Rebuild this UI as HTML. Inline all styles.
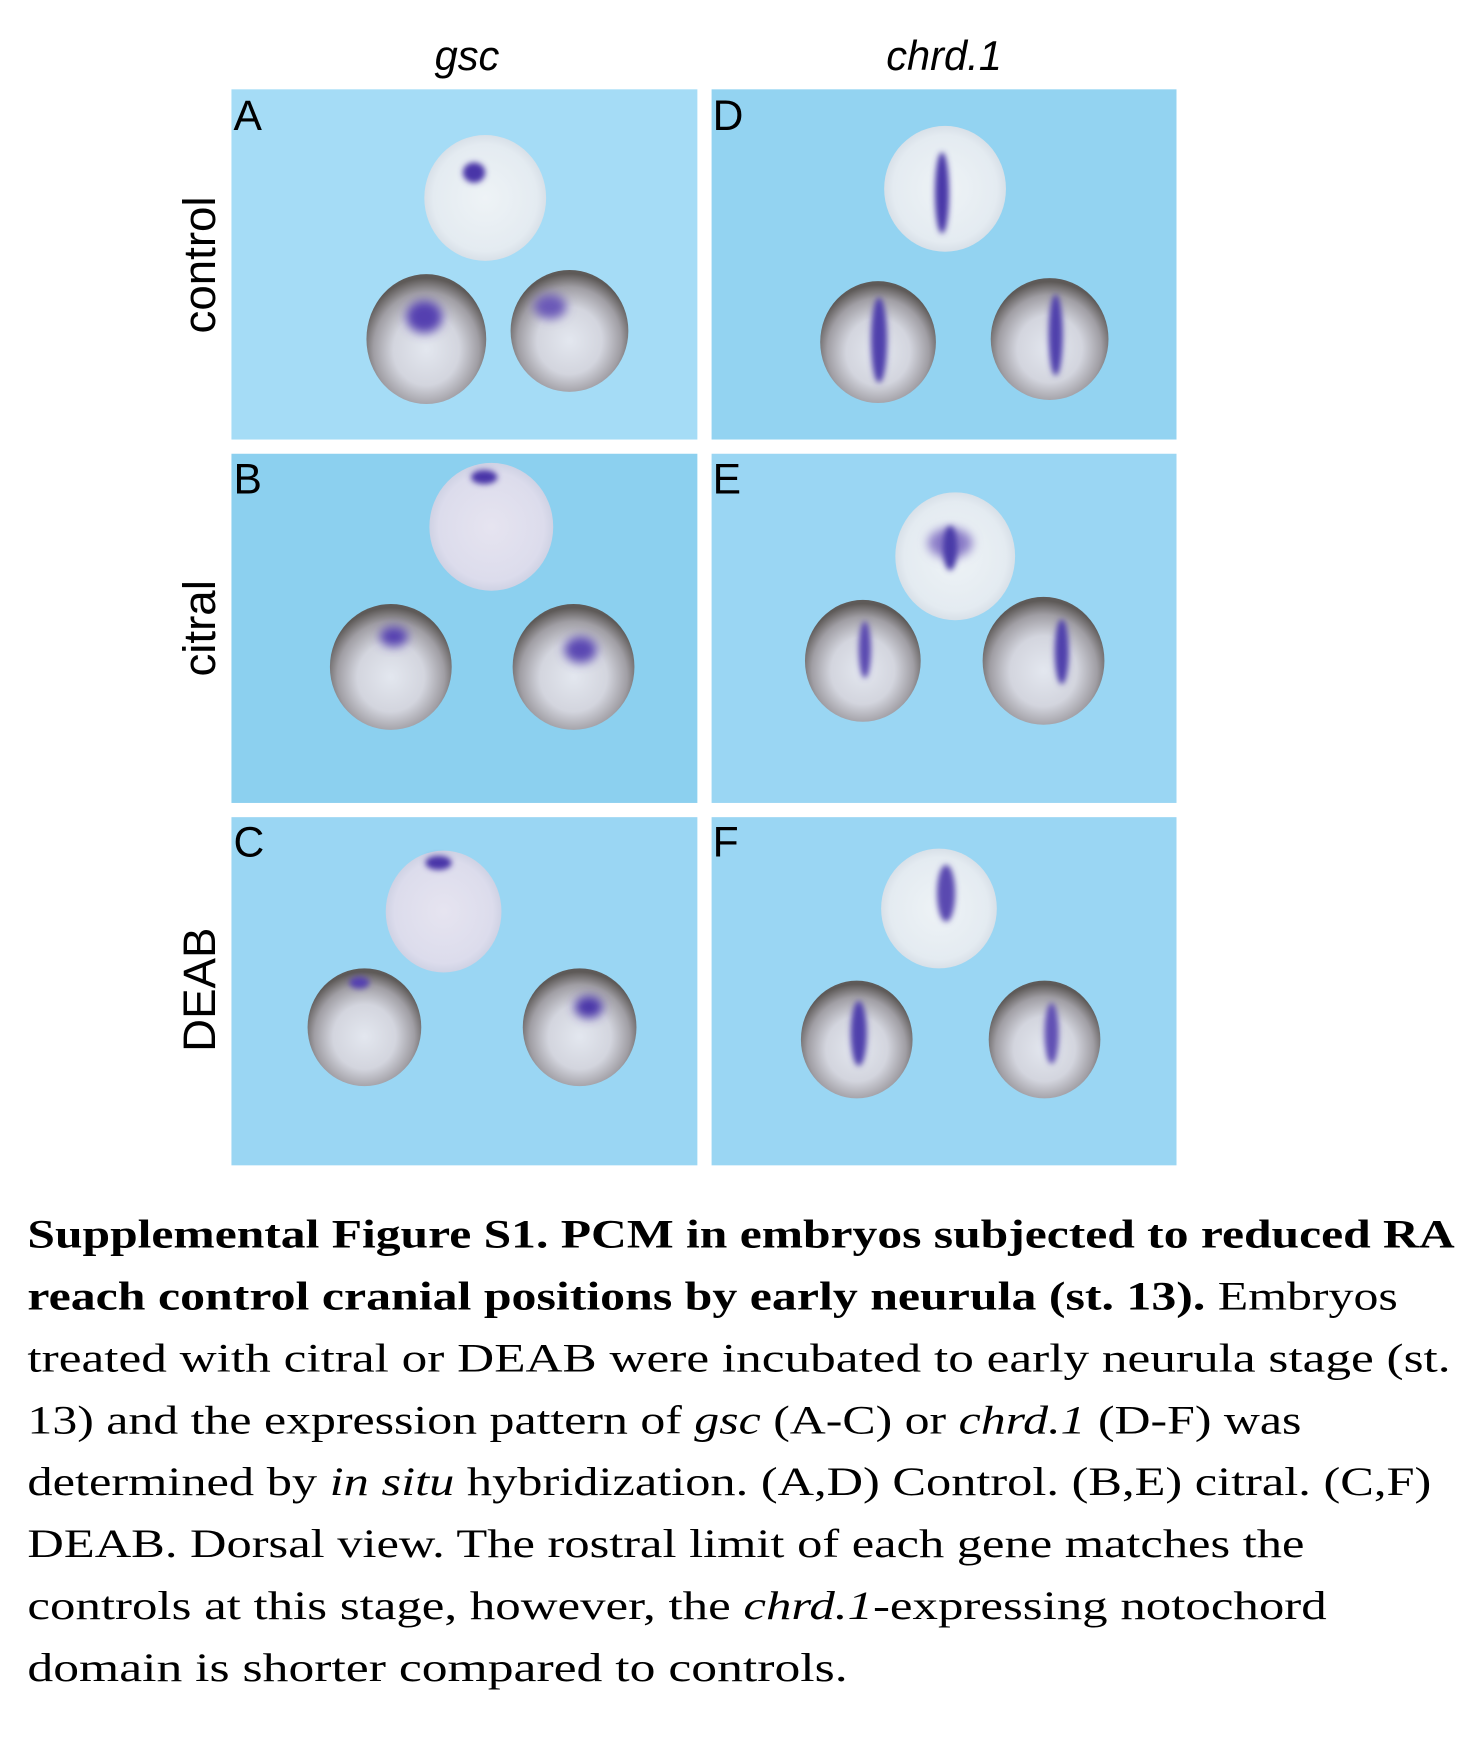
<!DOCTYPE html>
<html><head><meta charset="utf-8"><style>
html,body{margin:0;padding:0;background:#fff;}
svg{display:block}
</style></head><body>
<svg width="1468" height="1738" viewBox="0 0 1468 1738" xmlns="http://www.w3.org/2000/svg">
<defs>
<radialGradient id="top" cx="50%" cy="50%" r="50%">
<stop offset="0" stop-color="#eef3f6"/><stop offset="0.85" stop-color="#e4ebf1"/><stop offset="1" stop-color="#d8e0e8"/>
</radialGradient>
<radialGradient id="topP" cx="50%" cy="50%" r="50%">
<stop offset="0" stop-color="#e6e4f0"/><stop offset="0.85" stop-color="#dcdcec"/><stop offset="1" stop-color="#cfd2e4"/>
</radialGradient>
<radialGradient id="bot" cx="50%" cy="58%" r="55%">
<stop offset="0" stop-color="#e3e7ef"/><stop offset="0.5" stop-color="#d3d5de"/><stop offset="0.8" stop-color="#a09ea4"/><stop offset="1" stop-color="#5e5a58"/>
</radialGradient>
<filter id="bl" x="-50%" y="-50%" width="200%" height="200%"><feGaussianBlur stdDeviation="5"/></filter>
<filter id="bl2" x="-50%" y="-50%" width="200%" height="200%"><feGaussianBlur stdDeviation="3"/></filter>
</defs>
<g transform="scale(1.0151)">
<g font-family="Liberation Sans, sans-serif" font-size="41" fill="#000">
<text x="460" y="69" text-anchor="middle" font-style="italic">gsc</text>
<text x="930" y="69" text-anchor="middle" font-style="italic">chrd.1</text>
<g font-size="45">
<text transform="translate(212,261) rotate(-90)" text-anchor="middle">control</text>
<text transform="translate(212,619) rotate(-90)" text-anchor="middle">citral</text>
<text transform="translate(212,975) rotate(-90)" text-anchor="middle">DEAB</text>
</g>
</g>
<rect x="228" y="88" width="459" height="345" fill="#a5dcf6"/>
<rect x="701" y="88" width="458" height="345" fill="#93d3f1"/>
<rect x="228" y="447" width="459" height="344" fill="#8cd0ef"/>
<rect x="701" y="447" width="458" height="344" fill="#9ad6f3"/>
<rect x="228" y="805" width="459" height="343" fill="#9ad6f3"/>
<rect x="701" y="805" width="458" height="343" fill="#9ad6f3"/>
<g font-family="Liberation Sans, sans-serif" font-size="42" fill="#000">
<text x="230" y="128">A</text><text x="702" y="128">D</text>
<text x="230" y="486">B</text><text x="702" y="486">E</text>
<text x="230" y="844">C</text><text x="702" y="844">F</text>
</g>
<ellipse cx="478" cy="195" rx="60" ry="62" fill="url(#top)"/>
<ellipse cx="467" cy="170" rx="11" ry="10" fill="#4a36a8" filter="url(#bl2)"/>
<ellipse cx="420" cy="334" rx="59" ry="64" fill="url(#bot)"/>
<ellipse cx="418" cy="312" rx="18" ry="16" fill="#5440b0" filter="url(#bl)"/>
<ellipse cx="561" cy="326" rx="58" ry="60" fill="url(#bot)"/>
<ellipse cx="542" cy="302" rx="16" ry="12" fill="#6a58b8" filter="url(#bl)"/>
<ellipse cx="931" cy="186" rx="60" ry="62" fill="url(#top)"/>
<ellipse cx="928" cy="190" rx="7" ry="40" fill="#4838a8" filter="url(#bl2)"/>
<ellipse cx="865" cy="337" rx="57" ry="60" fill="url(#bot)"/>
<ellipse cx="866" cy="335" rx="8" ry="42" fill="#5040ac" filter="url(#bl2)"/>
<ellipse cx="1034" cy="334" rx="58" ry="60" fill="url(#bot)"/>
<ellipse cx="1040" cy="330" rx="7" ry="40" fill="#5040ac" filter="url(#bl2)"/>
<ellipse cx="484" cy="519" rx="61" ry="63" fill="url(#topP)"/>
<ellipse cx="477" cy="470" rx="13" ry="7" fill="#4a36a8" filter="url(#bl2)"/>
<ellipse cx="385" cy="657" rx="60" ry="62" fill="url(#bot)"/>
<ellipse cx="388" cy="627" rx="14" ry="10" fill="#5440b0" filter="url(#bl)"/>
<ellipse cx="565" cy="657" rx="60" ry="62" fill="url(#bot)"/>
<ellipse cx="572" cy="640" rx="16" ry="13" fill="#5a46b2" filter="url(#bl)"/>
<ellipse cx="941" cy="548" rx="59" ry="63" fill="url(#top)"/>
<ellipse cx="936" cy="535" rx="22" ry="15" fill="#8a7cc8" filter="url(#bl)"/>
<ellipse cx="936" cy="540" rx="7" ry="22" fill="#4a3aa8" filter="url(#bl2)"/>
<ellipse cx="850" cy="651" rx="57" ry="60" fill="url(#bot)"/>
<ellipse cx="852" cy="640" rx="6" ry="28" fill="#5a48b0" filter="url(#bl2)"/>
<ellipse cx="1028" cy="651" rx="60" ry="63" fill="url(#bot)"/>
<ellipse cx="1046" cy="642" rx="7" ry="32" fill="#5040ac" filter="url(#bl2)"/>
<ellipse cx="437" cy="898" rx="57" ry="60" fill="url(#topP)"/>
<ellipse cx="432" cy="850" rx="13" ry="7" fill="#4a36a8" filter="url(#bl2)"/>
<ellipse cx="359" cy="1012" rx="56" ry="58" fill="url(#bot)"/>
<ellipse cx="354" cy="968" rx="10" ry="6" fill="#5440b0" filter="url(#bl2)"/>
<ellipse cx="571" cy="1012" rx="56" ry="58" fill="url(#bot)"/>
<ellipse cx="580" cy="992" rx="14" ry="11" fill="#4a36a8" filter="url(#bl)"/>
<ellipse cx="925" cy="895" rx="57" ry="59" fill="url(#top)"/>
<ellipse cx="932" cy="880" rx="9" ry="28" fill="#5a48b0" filter="url(#bl2)"/>
<ellipse cx="844" cy="1024" rx="55" ry="58" fill="url(#bot)"/>
<ellipse cx="846" cy="1018" rx="8" ry="32" fill="#5040ac" filter="url(#bl2)"/>
<ellipse cx="1029" cy="1024" rx="55" ry="58" fill="url(#bot)"/>
<ellipse cx="1036" cy="1018" rx="7" ry="30" fill="#6050b4" filter="url(#bl2)"/>
<g font-family="Liberation Serif, serif" font-size="40" fill="#000">
<text x="27" y="1229" textLength="1406" lengthAdjust="spacingAndGlyphs" font-weight="bold">Supplemental Figure S1. PCM in embryos subjected to reduced RA</text>
<text x="27" y="1290" textLength="1350" lengthAdjust="spacingAndGlyphs"><tspan font-weight="bold">reach control cranial positions by early neurula (st. 13).</tspan>  Embryos</text>
<text x="27" y="1351" textLength="1402" lengthAdjust="spacingAndGlyphs">treated with citral or DEAB were incubated to early neurula stage (st.</text>
<text x="27" y="1412" textLength="1255" lengthAdjust="spacingAndGlyphs">13) and the expression pattern of <tspan font-style="italic">gsc</tspan> (A-C) or <tspan font-style="italic">chrd.1</tspan> (D-F) was</text>
<text x="27" y="1473" textLength="1383" lengthAdjust="spacingAndGlyphs">determined by <tspan font-style="italic">in situ</tspan> hybridization. (A,D) Control. (B,E) citral. (C,F)</text>
<text x="27" y="1534" textLength="1258" lengthAdjust="spacingAndGlyphs">DEAB. Dorsal view. The rostral limit of each gene matches the</text>
<text x="27" y="1595" textLength="1280" lengthAdjust="spacingAndGlyphs">controls at this stage, however, the <tspan font-style="italic">chrd.1</tspan>-expressing notochord</text>
<text x="27" y="1656" textLength="808" lengthAdjust="spacingAndGlyphs">domain is shorter compared to controls.</text>
</g>
</g>
</svg>
</body></html>
